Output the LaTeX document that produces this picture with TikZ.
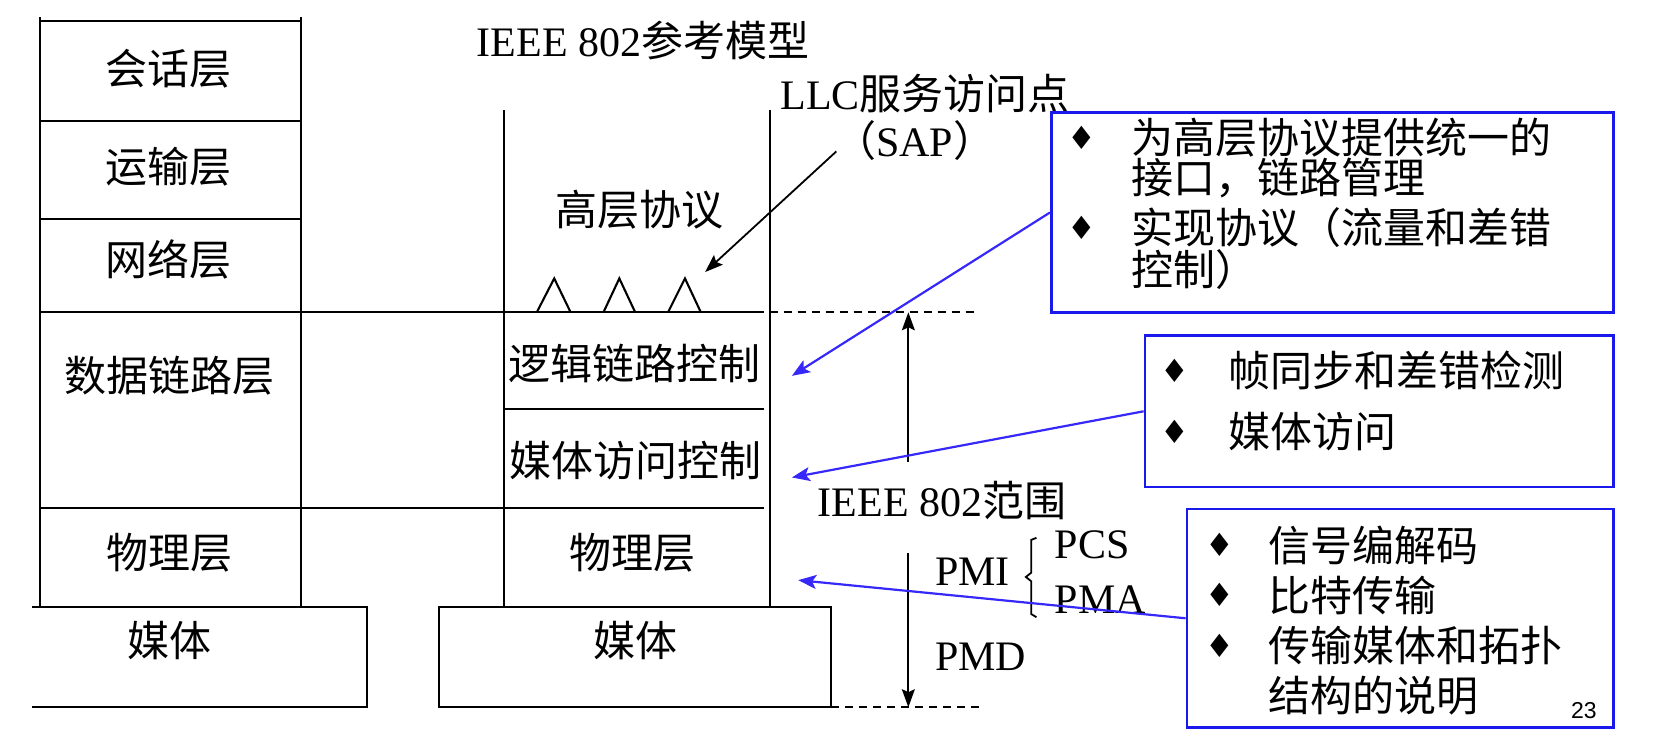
\documentclass[tikz,border=0pt]{standalone}
\usepackage{fontspec}
\setmainfont{Liberation Serif}
\newfontfamily\cjk{Noto Sans CJK SC}
\newfontfamily\symf{DejaVu Sans}
\newfontfamily\pgnum{Liberation Sans}
\usetikzlibrary{arrows.meta}
\definecolor{boxblue}{RGB}{25,25,235}
\definecolor{arrblue}{RGB}{55,40,250}
\begin{document}
\begin{tikzpicture}[x=0.5294pt,y=-0.5294pt,
  ln/.style={line width=1.05pt},
  lbl/.style={inner sep=0pt, font=\fontsize{21}{21}\selectfont},
  bul/.style={inner sep=0pt, font=\symf\fontsize{16}{16}\selectfont},
  bluebox/.style={draw=boxblue, line width=1.3pt, inner sep=0pt},
  barrow/.style={draw=arrblue, line width=1.1pt, -{Stealth[length=9pt,width=7pt,inset=2pt]}, fill=arrblue},
  karrow/.style={line width=0.9pt, -{Stealth[length=9pt,width=6.5pt,inset=1.5pt]}},
  dsh/.style={line width=0.9pt, dash pattern=on 4pt off 3pt}]
\useasboundingbox (0,0) rectangle (1568,714);

% ---- left OSI stack ----
\draw[ln] (38,16) -- (38,573);
\draw[ln] (284,16) -- (284,573);
\draw[ln] (38,20) -- (284,20);
\draw[ln] (38,114) -- (284,114);
\draw[ln] (38,207) -- (284,207);
\draw[ln] (38,295) -- (722,295);
\draw[ln] (38,480) -- (722,480);
\draw[ln] (30,573) -- (347,573) -- (347,668) -- (30,668);

\node[lbl] (s5) at (159,65) {\cjk 会话层};
\node[lbl] (s4) at (159,157) {\cjk 运输层};
\node[lbl] (s3) at (159,245) {\cjk 网络层};
\node[lbl] (s2) at (160,355) {\cjk 数据链路层};
\node[lbl] (s1) at (160,522) {\cjk 物理层};
\node[lbl] (m1) at (160,605) {\cjk 媒体};

% ---- right IEEE 802 stack ----
\draw[ln] (476,104) -- (476,573);
\draw[ln] (727,104) -- (727,573);
\draw[ln] (476,386) -- (722,386);
\draw[ln] (415,573) rectangle (785,668);
\draw[ln] (507,295) -- (523.5,263) -- (539,295);
\draw[ln] (570,295) -- (585,263) -- (600,295);
\draw[ln] (631,295) -- (647,263) -- (662,295);
\draw[dsh] (727,295) -- (925,295);
\draw[dsh] (785,668) -- (925,668);

\node[lbl, anchor=west] (title) at (450,38) {IEEE 802\cjk 参考模型};
\node[lbl, anchor=west] (llc) at (737,88) {LLC\cjk 服务访问点};
\node[lbl] (sap) at (864,133) {\cjk （\normalfont SAP\cjk ）};
\node[lbl] (hl) at (604,198) {\cjk 高层协议};
\node[lbl] (llcl) at (599,343) {\cjk 逻辑链路控制};
\node[lbl] (mac) at (600,435) {\cjk 媒体访问控制};
\node[lbl] (phy) at (597,522) {\cjk 物理层};
\node[lbl] (m2) at (600,605) {\cjk 媒体};
\node[lbl, anchor=west] (scope) at (772,473) {IEEE 802\cjk 范围};
\node[lbl, anchor=west] (pmi) at (883,540) {PMI};
\node[lbl, anchor=west] (pcs) at (996,515) {PCS};
\node[lbl, anchor=west] (pma) at (996,566) {PMA};
\node[lbl, anchor=west] (pmd) at (883,620) {PMD};
\draw[line width=0.9pt] (979,508) -- (974,510) -- (974,541) -- (969,545) -- (974,549) -- (974,580) -- (979,583);

% SAP arrow
\coordinate (sapS) at (790,143);
\coordinate (sapT) at (666,257);
\draw[karrow] (sapS) -- (sapT);

% scope arrows
\coordinate (upS) at (858,436);
\coordinate (upT) at (858,295);
\coordinate (dnS) at (858,522);
\coordinate (dnT) at (858,668);
\draw[karrow] (upS) -- (upT);
\draw[karrow] (dnS) -- (dnT);

% ---- blue boxes ----
\node[bluebox, minimum width=281.1pt, minimum height=100.06pt] (box1) at (1258.5,200.7) {};
\node[bluebox, minimum width=234.3pt, minimum height=75.7pt] (box2) at (1302.75,388.5) {};
\node[bluebox, minimum width=213.3pt, minimum height=109.1pt] (box3) at (1322.5,584) {};

\node[bul] (b11) at (1022,130) {♦};
\node[lbl, anchor=west] (t11) at (1068,130) {\cjk 为高层协议提供统一的};
\node[lbl, anchor=west] (t12) at (1068,168) {\cjk 接口，链路管理};
\node[bul] (b12) at (1022,215) {♦};
\node[lbl, anchor=west] (t13) at (1068,215) {\cjk 实现协议（流量和差错};
\node[lbl, anchor=west] (t14) at (1068,255) {\cjk 控制）};

\node[bul] (b21) at (1110,350) {♦};
\node[lbl, anchor=west] (t21) at (1160,350) {\cjk 帧同步和差错检测};
\node[bul] (b22) at (1110,408) {♦};
\node[lbl, anchor=west] (t22) at (1160,408) {\cjk 媒体访问};

\node[bul] (b31) at (1152,515) {♦};
\node[lbl, anchor=west] (t31) at (1198,515) {\cjk 信号编解码};
\node[bul] (b32) at (1152,562) {♦};
\node[lbl, anchor=west] (t32) at (1198,562) {\cjk 比特传输};
\node[bul] (b33) at (1152,610) {♦};
\node[lbl, anchor=west] (t33) at (1198,610) {\cjk 传输媒体和拓扑};
\node[lbl, anchor=west] (t34) at (1198,657) {\cjk 结构的说明};
\node[inner sep=0pt, font=\pgnum\fontsize{11.5}{12}\selectfont] (pg) at (1496,671) {23};

% blue connectors
\coordinate (a1) at (748,355);
\coordinate (a2) at (748,451);
\coordinate (a3) at (754,548);
\draw[barrow] (box1.west) -- (a1);
\draw[barrow] (box2.west) -- (a2);
\draw[barrow] (box3.west) -- (a3);
\end{tikzpicture}
\end{document}
